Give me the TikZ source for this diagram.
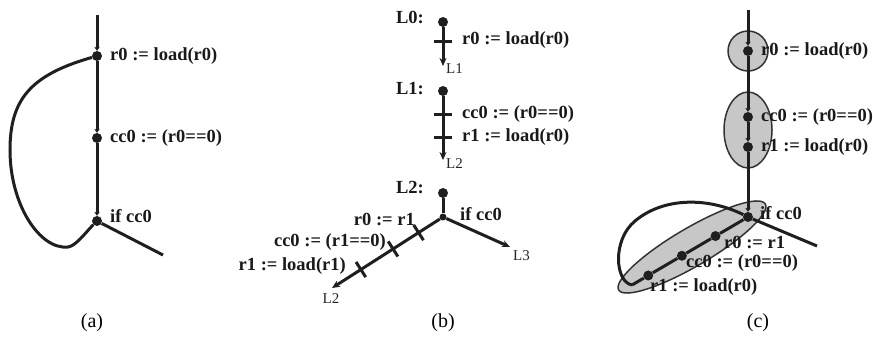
\documentclass[tikz,border=0pt]{standalone}
\usepackage{fontspec}
\setmainfont{Liberation Serif}
\usetikzlibrary{arrows.meta,calc}
\begin{document}
\begin{tikzpicture}[x=1pt,y=-1pt,
  line/.style={line width=3pt, draw=black!88},
  dot/.style={circle, fill=black!88, inner sep=0pt, minimum size=10pt},
  jdot/.style={circle, fill=black!88, inner sep=0pt, minimum size=7pt},
  lbl/.style={font=\fontsize{18.5}{20}\selectfont\bfseries, inner sep=0pt, text=black!90},
  small/.style={font=\fontsize{15}{16}\selectfont, inner sep=0pt, text=black!85},
  capt/.style={font=\fontsize{20}{22}\selectfont, inner sep=0pt},
  tip/.style={-{Stealth[length=8pt,width=7pt]}},
  sm/.style={-{Stealth[length=4pt,width=5.5pt]}},
  grp/.style={fill=black!22, draw=black!80, line width=1.5pt}
]
\useasboundingbox (0,0) rectangle (873,337);

% ---------------- (a) ----------------
\coordinate (atop) at (97,15);
\node[dot] (a1) at (97,56) {};
\node[dot] (a2) at (97,138) {};
\node[dot] (a3) at (97,221) {};
\coordinate (aend) at (163,255);
\draw[line, sm] (atop) -- (a1);
\draw[line, sm] (a1) -- (a2);
\draw[line, sm] (a2) -- (a3);
\draw[line] (a3) -- (aend);
\draw[line] (a1) .. controls (30,75) and (10,100) .. (10,150)
  .. controls (10,205) and (40,250) .. (68,247)
  .. controls (76,246) and (86,232) .. (a3);
\node[lbl, anchor=west] (la1) at (110,56) {r0 := load(r0)};
\node[lbl, anchor=west] (la2) at (110,138) {cc0 := (r0==0)};
\node[lbl, anchor=west] (la3) at (110,216) {if cc0};
\node[capt] (capa) at (92,323) {(a)};

% ---------------- (b) ----------------
% L0
\node[lbl, anchor=east] (bL0) at (424,17) {L0:};
\node[dot] (b0) at (443,22) {};
\coordinate (b0e) at (443,66);
\draw[line, tip] (b0) -- (b0e);
\coordinate (b0t) at (443,42);
\draw[line] ([xshift=-9pt]b0t) -- ([xshift=9pt]b0t);
\node[lbl, anchor=west] (lb0) at (462,40) {r0 := load(r0)};
\node[small, anchor=west] (sb0) at (446,69) {L1};
% L1
\node[lbl, anchor=east] (bL1) at (424,89) {L1:};
\node[dot] (b1) at (443,91) {};
\coordinate (b1e) at (443,160);
\draw[line, tip] (b1) -- (b1e);
\coordinate (b1t) at (443,114);
\coordinate (b1u) at (443,137);
\draw[line] ([xshift=-9pt]b1t) -- ([xshift=9pt]b1t);
\draw[line] ([xshift=-9pt]b1u) -- ([xshift=9pt]b1u);
\node[lbl, anchor=west] (lb1) at (462,114) {cc0 := (r0==0)};
\node[lbl, anchor=west] (lb2) at (462,137) {r1 := load(r0)};
\node[small, anchor=west] (sb1) at (446,164) {L2};
% L2
\node[lbl, anchor=east] (bL2) at (424,188) {L2:};
\node[dot] (b2) at (443,193) {};
\node[jdot] (bj) at (443,217) {};
\coordinate (br) at (510,247);
\coordinate (bl) at (332,288);
\draw[line] (b2) -- (bj);
\draw[line, tip] (bj) -- (br);
\draw[line, tip] (bj) -- (bl);
\path (bj.center) -- (bl) coordinate[pos=0.22] (bt1) coordinate[pos=0.45] (bt2) coordinate[pos=0.74] (bt3);
\foreach \t in {bt1,bt2,bt3}
  \draw[line] ($(\t)!9pt!90:(bj.center)$) -- ($(\t)!9pt!-90:(bj.center)$);
\node[lbl, anchor=west] (lbif) at (460,214) {if cc0};
\node[lbl, anchor=east] (lbb1) at (415,219) {r0 := r1};
\node[lbl, anchor=east] (lbb2) at (386,242) {cc0 := (r1==0)};
\node[lbl, anchor=east] (lbb3) at (346,266) {r1 := load(r1)};
\node[small, anchor=west] (sb3) at (513,256) {L3};
\node[small] (sb2) at (331,299) {L2};
\node[capt] (capb) at (443,323) {(b)};

% ---------------- (c) ----------------
\draw[grp] (748,51) circle[radius=20];
\draw[grp] (748,130) ellipse[x radius=24, y radius=38];
\draw[grp, rotate around={30.4:(692,247)}] (692,247) ellipse[x radius=85, y radius=19];
\coordinate (ctop) at (748,10);
\node[dot] (c1) at (748,51) {};
\node[dot] (c2) at (748,117) {};
\node[dot] (c3) at (748,147) {};
\node[dot] (cj) at (748,217) {};
\coordinate (cend) at (632,285);
\coordinate (cr) at (817,246);
\path (cj.center) -- (cend) coordinate[pos=0.28] (cp1) coordinate[pos=0.57] (cp2) coordinate[pos=0.86] (cp3);
\node[dot] (cb1) at (cp1) {};
\node[dot] (cb2) at (cp2) {};
\node[dot] (cb3) at (cp3) {};
\draw[line, sm] (ctop) -- (c1);
\draw[line, sm] (c1) -- (c2);
\draw[line, sm] (c2) -- (c3);
\draw[line, sm] (c3) -- (cj);
\draw[line] (cj) -- (cr);
\draw[line] (cj) -- (cb1);
\draw[line] (cb1) -- (cb2);
\draw[line] (cb2) -- (cb3);
\draw[line] (cb3) -- (cend);
\draw[line] (cend) .. controls (615,282) and (612,240) .. (635,221)
  .. controls (665,196) and (710,198) .. (cj);
\node[lbl, anchor=west] (lc1) at (761,51) {r0 := load(r0)};
\node[lbl, anchor=west] (lc2) at (761,117) {cc0 := (r0==0)};
\node[lbl, anchor=west] (lc3) at (761,147) {r1 := load(r0)};
\node[lbl, anchor=west] (lc4) at (760,213) {if cc0};
\node[lbl, anchor=west] (lc5) at (724,242) {r0 := r1};
\node[lbl, anchor=west] (lc6) at (686,263) {cc0 := (r0==0)};
\node[lbl, anchor=west] (lc7) at (650,287) {r1 := load(r0)};
\node[capt] (capc) at (758,323) {(c)};
\end{tikzpicture}
\end{document}
